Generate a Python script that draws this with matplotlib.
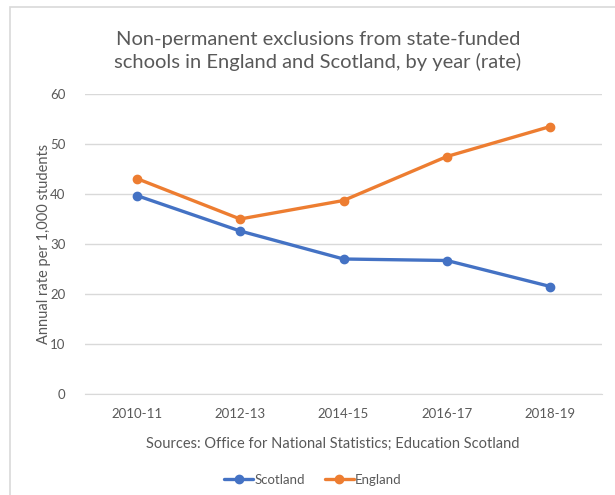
import matplotlib
matplotlib.use("Agg")
import matplotlib.pyplot as plt
from matplotlib.patches import Rectangle

years = ["2010-11", "2012-13", "2014-15", "2016-17", "2018-19"]
scotland = [39.7, 32.6, 27.0, 26.7, 21.5]
england = [43.1, 35.0, 38.7, 47.5, 53.5]
yticks = [0, 10, 20, 30, 40, 50, 60]

plt.rcParams['font.family'] = ['Lato', 'DejaVu Sans']

fig = plt.figure(figsize=(6.15, 4.95), dpi=100)
ax = fig.add_axes([85/615, 1-394/495, (602-85)/615, 300/495])

# figure frame
fig.patches.append(Rectangle((10/615, -0.1), 1.2, 1 - 7/495 + 0.1, transform=fig.transFigure,
                             fill=False, edgecolor='#D9D9D9', linewidth=1.2))

x = list(range(len(years)))
ax.plot(x, scotland, color='#4472C4', lw=2.4, marker='o', ms=6, label='Scotland', solid_capstyle='round')
ax.plot(x, england, color='#ED7D31', lw=2.4, marker='o', ms=6, label='England', solid_capstyle='round')

ax.set_xlim(-0.5, 4.5)
ax.set_ylim(0, 60)
ax.set_yticks(yticks)
ax.set_xticks(x)
ax.set_xticklabels(years)
ax.yaxis.grid(True, color='#D9D9D9', lw=1)
ax.set_axisbelow(True)
for s in ['top', 'right', 'left']:
    ax.spines[s].set_visible(False)
ax.spines['bottom'].set_color('#D9D9D9')
ax.tick_params(axis='both', length=0, colors='#595959', labelsize=9.5)
ax.tick_params(axis='x', pad=10)
ax.tick_params(axis='y', pad=14)

ax.set_ylabel("Annual rate per 1,000 students", fontsize=10.5, color='#595959')
ax.yaxis.set_label_coords((51 - 85) / (602 - 85), 0.5)

fig.text(318/615, 1-51/495, "Non-permanent exclusions from state-funded\nschools in England and Scotland, by year (rate)",
         ha='center', va='center', fontsize=14.5, color='#595959', linespacing=1.35)
fig.text(333/615, 1-444/495, "Sources: Office for National Statistics; Education Scotland",
         ha='center', va='center', fontsize=10.5, color='#595959')

leg = fig.legend(loc='center', bbox_to_anchor=(313/615, 1-480/495), ncol=2, frameon=False,
                 fontsize=9.5, handlelength=2.2, columnspacing=1.5, handletextpad=0.1)
for t in leg.get_texts():
    t.set_color('#595959')

fig.savefig("out.png", dpi=100)
